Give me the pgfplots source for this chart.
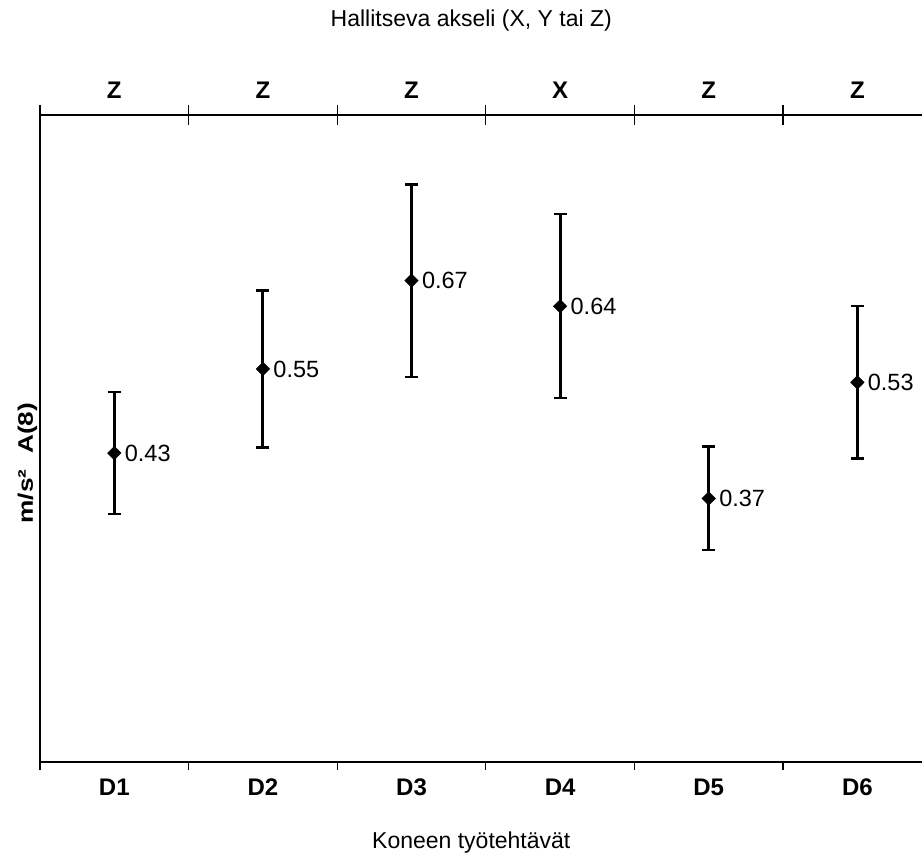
\documentclass[border=0pt]{standalone}
\usepackage{pgfplots}
\pgfplotsset{compat=1.18}
\usepackage{pgfplotstable}
\usepackage{fontspec}
\setmainfont{Liberation Sans}

\pgfplotstableread{
x y err lab
1 0.4297 0.085 0.43
2 0.5467 0.109 0.55
3 0.6696 0.134 0.67
4 0.6340 0.128 0.64
5 0.3666 0.072 0.37
6 0.5280 0.106 0.53
}\datatable

\begin{document}
\begin{tikzpicture}
\begin{axis}[name=main,
  scale only axis, width=882pt, height=647pt,
  xmin=0.5, xmax=6.435, ymin=0, ymax=0.9,
  axis x line=bottom, axis y line=left,
  axis line style={-, line width=1.2pt, black},
  xtick={1,2,3,4,5,6}, xticklabels={D1,D2,D3,D4,D5,D6},
  major tick length=0pt,
  minor xtick={0.5,1.5,2.5,3.5,4.5,5.5},
  minor tick length=8pt, tick align=outside,
  ytick=\empty,
  tick style={line width=1.2pt, black},
  xticklabel style={font=\fontsize{24}{28}\selectfont\bfseries, yshift=-13pt},
  xlabel={Koneen työtehtävät},
  xlabel style={font=\fontsize{23}{27}\selectfont, at={(rel axis cs:0.489,0)}, anchor=base, yshift=-87pt},
  ylabel={\scalebox{1.25}[1]{m/s²\hspace{0.6em}A(8)}},
  ylabel style={font=\fontsize{21}{25}\selectfont\bfseries, at={(rel axis cs:0,0.462)}, anchor=base, yshift=7pt},
  clip=false,
]
\addplot[black, only marks, mark=square*, mark size=4.8pt, mark options={rotate=45},
  point meta=explicit symbolic,
  nodes near coords,
  nodes near coords style={anchor=west, xshift=7pt, font=\fontsize{23.5}{27}\selectfont, text=black},
  error bars/.cd, y dir=both, y explicit,
  error bar style={line width=3pt, black},
  error mark options={rotate=90, mark size=6.5pt, line width=2.5pt, black}]
  table[x=x, y=y, y error=err, meta=lab] {\datatable};
\end{axis}
\begin{axis}[
  scale only axis, width=882pt, height=647pt,
  xmin=0.5, xmax=6.435, ymin=0, ymax=0.9,
  axis x line=top, axis y line=none,
  axis line style={-, line width=1.2pt, black},
  xtick={1,2,3,4,5,6}, xticklabels={Z,Z,Z,X,Z,Z},
  major tick length=0pt,
  minor xtick={0.5,1.5,2.5,3.5,4.5,5.5},
  minor tick length=20pt, tick align=center,
  ytick=\empty,
  tick style={line width=1.2pt, black},
  xticklabel style={font=\fontsize{24}{28}\selectfont\bfseries, yshift=13pt},
  title={Hallitseva akseli (X, Y tai Z)},
  title style={font=\fontsize{23}{27}\selectfont, at={(rel axis cs:0.489,1)}, anchor=base, yshift=82pt},
]
\end{axis}
\pgfresetboundingbox
\path ([xshift=-40pt,yshift=-91pt]main.south west) rectangle ([yshift=115pt]main.north east);
\end{tikzpicture}
\end{document}
